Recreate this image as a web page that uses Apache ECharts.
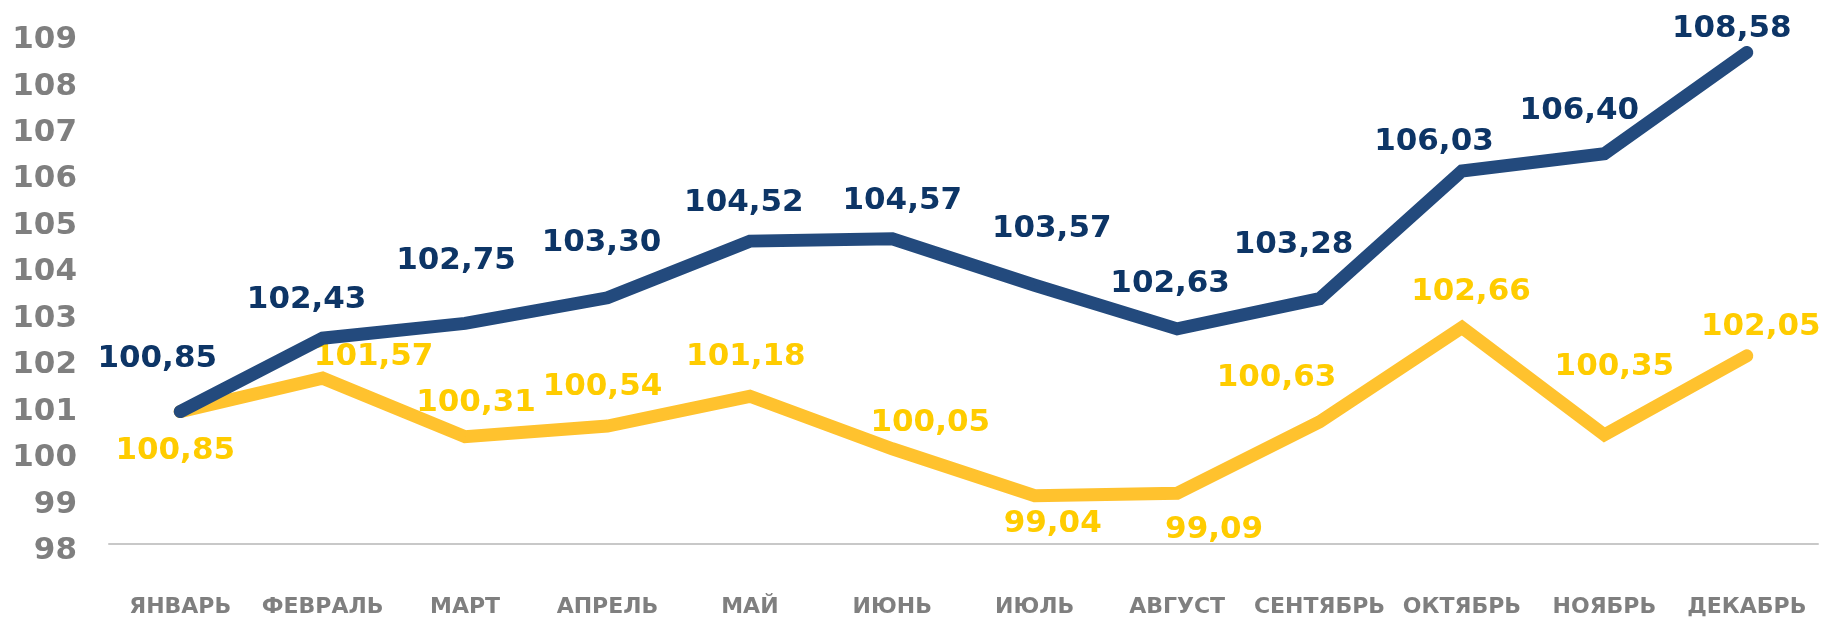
<!DOCTYPE html>
<html>
<head>
<meta charset="utf-8">
<script src="https://cdn.jsdelivr.net/npm/echarts@6/dist/echarts.min.js"></script>
<style>
  html, body { margin: 0; padding: 0; background: #fff; }
  #chart { width: 1828px; height: 619px; }
</style>
</head>
<body>
<div id="chart"></div>
<script>
// данные
const months = ['ЯНВАРЬ', 'ФЕВРАЛЬ', 'МАРТ', 'АПРЕЛЬ', 'МАЙ', 'ИЮНЬ', 'ИЮЛЬ', 'АВГУСТ', 'СЕНТЯБРЬ', 'ОКТЯБРЬ', 'НОЯБРЬ', 'ДЕКАБРЬ'];
const blueValues = [100.85, 102.43, 102.75, 103.30, 104.52, 104.57, 103.57, 102.63, 103.28, 106.03, 106.40, 108.58];
const yellowValues = [100.85, 101.57, 100.31, 100.54, 101.18, 100.05, 99.04, 99.09, 100.63, 102.66, 100.35, 102.05];
const yMin = 98;
const yMax = 109;

// смещения подписей от точки (px)
const blueLabelOffsets = [[-23, -53], [-16, -38], [-9, -62], [-6, -55], [-6, -38], [10, -38], [17, -56], [-7, -45], [-26, -54], [-28, -29], [-25, -43], [-15, -24]];
const yellowLabelOffsets = [[-5, 39], [51, -21], [11, -34], [-5, -39], [-4, -39], [38, -26], [18, 28], [37, 37], [-43, -44], [9, -36], [10, -68], [14, -29]];

const numFont = 'DejaVu Sans';

function fmt(v) {
  return v.toFixed(2).replace('.', ',');
}

function buildData(values, offsets, color) {
  return values.map((v, i) => ({
    value: v,
    label: { offset: offsets[i], color: color }
  }));
}

const chart = echarts.init(document.getElementById('chart'));

const option = {
  animation: false,
  grid: {
    left: 109,
    right: 10,
    top: 33,
    bottom: 75,
    containLabel: false
  },
  xAxis: {
    type: 'category',
    data: months,
    boundaryGap: true,
    axisLine: { show: true, lineStyle: { color: '#c8c8c8', width: 2 } },
    axisTick: { show: false },
    axisLabel: {
      interval: 0,
      margin: 52,
      color: '#7f7f7f',
      fontSize: 22,
      fontWeight: 'bold',
      fontFamily: numFont
    },
    splitLine: { show: false }
  },
  yAxis: {
    type: 'value',
    min: yMin,
    max: yMax,
    interval: 1,
    axisLine: { show: false },
    axisTick: { show: false },
    splitLine: { show: false },
    axisLabel: {
      margin: 32,
      verticalAlign: 'top',
      lineHeight: 14,
      color: '#7f7f7f',
      fontSize: 31,
      fontWeight: 'bold',
      fontFamily: numFont
    }
  },
  series: [
    {
      name: 'yellow',
      type: 'line',
      data: buildData(yellowValues, yellowLabelOffsets, '#ffcc00'),
      symbol: 'circle',
      symbolSize: 1,
      itemStyle: { color: '#ffc22e' },
      lineStyle: { color: '#ffc22e', width: 13, cap: 'round', join: 'miter' },
      label: {
        show: true,
        position: 'inside',
        fontSize: 31,
        fontWeight: 'bold',
        fontFamily: numFont,
        formatter: p => fmt(p.value)
      },
      z: 2
    },
    {
      name: 'blue',
      type: 'line',
      data: buildData(blueValues, blueLabelOffsets, '#0d3566'),
      symbol: 'circle',
      symbolSize: 1,
      itemStyle: { color: '#234a7d' },
      lineStyle: { color: '#234a7d', width: 13, cap: 'round', join: 'miter' },
      label: {
        show: true,
        position: 'inside',
        fontSize: 31,
        fontWeight: 'bold',
        fontFamily: numFont,
        formatter: p => fmt(p.value)
      },
      z: 3
    }
  ]
};

chart.setOption(option);
</script>
</body>
</html>
